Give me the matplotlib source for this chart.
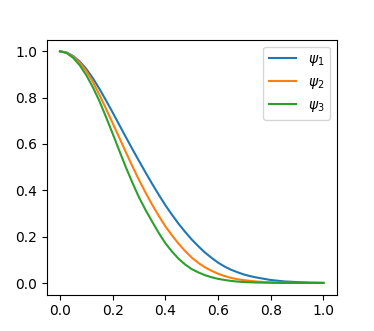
import matplotlib
matplotlib.use('Agg')
from matplotlib import pyplot as plt

# values (0.025 steps up to 0.8, then 0.05)
x = [0.000, 0.025, 0.050, 0.075, 0.100, 0.125, 0.150, 0.175, 0.200, 0.225,
     0.250, 0.275, 0.300, 0.325, 0.350, 0.375, 0.400, 0.425, 0.450, 0.475,
     0.500, 0.525, 0.550, 0.575, 0.600, 0.625, 0.650, 0.675, 0.700, 0.725,
     0.750, 0.775, 0.800, 0.85, 0.90, 0.95, 1.00]
psi1 = [1.000, 0.995, 0.980, 0.956, 0.924, 0.884, 0.838, 0.788, 0.736, 0.683,
        0.630, 0.578, 0.527, 0.477, 0.428, 0.381, 0.336, 0.295, 0.256, 0.221,
        0.188, 0.159, 0.132, 0.109, 0.088, 0.071, 0.057, 0.046, 0.036, 0.029,
        0.023, 0.018, 0.013, 0.007, 0.004, 0.002, 0.001]
psi2 = [1.000, 0.994, 0.977, 0.951, 0.915, 0.868, 0.812, 0.752, 0.690, 0.628,
        0.565, 0.504, 0.445, 0.390, 0.338, 0.290, 0.245, 0.206, 0.170, 0.138,
        0.110, 0.087, 0.068, 0.053, 0.040, 0.030, 0.022, 0.016, 0.012, 0.009,
        0.006, 0.004, 0.003, 0.0015, 0.0007, 0.0003, 0.0001]
psi3 = [1.000, 0.993, 0.972, 0.940, 0.897, 0.845, 0.785, 0.716, 0.645, 0.572,
        0.500, 0.433, 0.370, 0.315, 0.265, 0.216, 0.172, 0.136, 0.105, 0.080,
        0.060, 0.046, 0.034, 0.025, 0.018, 0.013, 0.009, 0.006, 0.004, 0.003,
        0.002, 0.0015, 0.001, 0.0003, 0.0001, 0.0, 0.0]

fig = plt.figure(figsize=(3.74, 3.31), dpi=100)
plt.plot(x, psi1, label=r'$\psi_1$')
plt.plot(x, psi2, label=r'$\psi_2$')
plt.plot(x, psi3, label=r'$\psi_3$')
plt.legend()

plt.savefig('out.png')
